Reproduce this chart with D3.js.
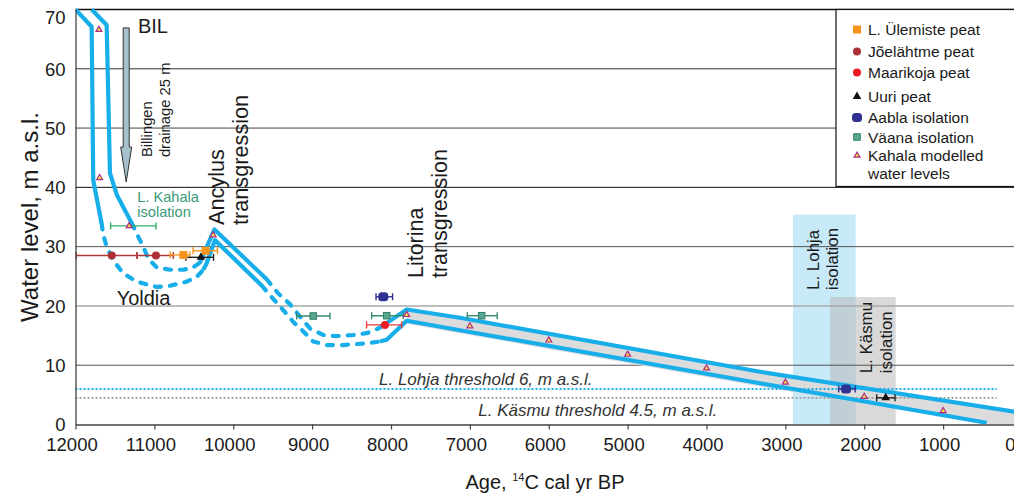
<!DOCTYPE html>
<html>
<head>
<meta charset="utf-8">
<script src="https://cdn.jsdelivr.net/npm/d3@7"></script>
<style>
  body { margin: 0; background: #fff; }
  svg text { font-family: "Liberation Sans", Arial, Helvetica, sans-serif; }
</style>
</head>
<body>
<div id="viz"></div>
<script>
const x_ticks = [12000, 11000, 10000, 9000, 8000, 7000, 6000, 5000, 4000, 3000, 2000, 1000, 0];
const y_ticks = [0, 10, 20, 30, 40, 50, 60, 70];

// shore level curves, [age cal yr BP, level m a.s.l.]; dashed = uncertain stretch
const upper_shore = [
  {dashed: false, points: [[11795, 70], [11605, 67.4], [11563, 42.4], [11475, 38.7], [11288, 34.0]]},
  {dashed: true, points: [[11288, 34.0], [11205, 31.7], [11141, 30.0], [11078, 28.0], [10971, 26.5], [10803, 26.1], [10634, 26.1], [10507, 26.5], [10422, 27.3]]},
  {dashed: false, points: [[10422, 27.3], [10380, 28.6], [10238, 32.9], [9576, 24.5]]},
  {dashed: true, points: [[9576, 24.5], [9429, 22.1], [9281, 20.3], [9154, 18.2], [9027, 16.2], [8859, 15.1], [8689, 14.9], [8478, 15.1], [8309, 15.4], [8161, 16.2], [8055, 17.1]]},
  {dashed: false, points: [[8055, 17.1], [7801, 19.4], [7126, 18.0], [3322, 8.9], [0, 1.95]]}
];
const lower_shore = [
  {dashed: false, points: [[12000, 70], [11795, 67.1], [11775, 41.2], [11669, 33.9]]},
  {dashed: true, points: [[11669, 33.9], [11648, 32.0], [11605, 30.0], [11521, 27.7], [11395, 25.5], [11225, 24.1], [10971, 23.2], [10803, 23.4], [10591, 24.1], [10464, 24.9], [10380, 26.1]]},
  {dashed: false, points: [[10380, 26.1], [10337, 27.2], [10232, 31.1], [9636, 23.4]]},
  {dashed: true, points: [[9636, 23.4], [9535, 21.8], [9366, 19.3], [9239, 17.3], [9112, 15.7], [8986, 14.0], [8816, 13.4], [8605, 13.4], [8309, 13.7], [8140, 14.0]]},
  {dashed: false, points: [[8140, 14.0], [8055, 14.3], [7801, 17.5], [7126, 15.9], [3322, 6.95], [448, 0.3]]}
];
// grey uncertainty band under the Litorina curve
const band_top = [[7801, 19.4], [7126, 18.0], [3322, 8.9], [0, 1.95]];
const band_bottom = [[0, 0], [380, 0], [3322, 6.4], [7126, 15.4], [7801, 17.0]];

const isolation_zones = [
  {name: 'lohja', from: 2903, to: 2108, top: 35.4},
  {name: 'kasmu', from: 2434, to: 1601, top: 21.5}
];
const thresholds = [
  {name: 'lohja', level: 6, from: 12000, to: 320, label: 'L. Lohja threshold 6, m a.s.l.', label_age: 8152, label_level: 6.66},
  {name: 'kasmu', level: 4.5, from: 12000, to: 320, label: 'L. Käsmu threshold 4.5, m a.s.l.', label_age: 6894, label_level: 1.48}
];

// dated sites: age, level, error range
const ulemiste_peat = [{age: 10632, v: 28.6, lo: 10800, hi: 10550}, {age: 10350, v: 29.3, lo: 10510, hi: 10200}];
const joelahtme_peat = [{age: 11540, v: 28.5, lo: 11990, hi: 11220}, {age: 10980, v: 28.5, lo: 11220, hi: 10760}];
const maarikoja_peat = [{age: 8077, v: 16.8, lo: 8310, hi: 7865}];
const uuri_peat = [{age: 10410, v: 28.2, lo: 10600, hi: 10250}, {age: 1728, v: 4.5, lo: 1842, hi: 1610}];
const aabla_isolation = [{age: 8098, v: 21.55, lo: 8190, hi: 7980}, {age: 2231, v: 6.0, lo: 2324, hi: 2114}];
const vaana_isolation = [{age: 8985, v: 18.3, lo: 9196, hi: 8774}, {age: 8055, v: 18.35, lo: 8245, hi: 7845}, {age: 6851, v: 18.35, lo: 7033, hi: 6653}];
const kahala_isolation = [{age: 11320, v: 33.5, lo: 11555, hi: 10979}];
const kahala_levels = [
  {age: 11703, v: 66.6}, {age: 11694, v: 41.6}, {age: 11320, v: 33.5}, {age: 10254, v: 31.95},
  {age: 7801, v: 18.5}, {age: 7000, v: 16.6}, {age: 6000, v: 14.2}, {age: 5000, v: 11.8},
  {age: 4000, v: 9.5}, {age: 3000, v: 7.1}, {age: 2000, v: 4.7}, {age: 1000, v: 2.3}
];

const billingen_arrow = {age: 11357, from: 66.9, to: 40.9};

const annotations = [
  {text: 'BIL', age: 11208, v: 66.0, size: 20},
  {text: 'Billingen', age: 11027, v: 45.1, size: 14.8, rotate: true},
  {text: 'drainage 25 m', age: 10796, v: 45.1, size: 14.8, rotate: true},
  {text: 'L. Kahala', age: 11217, v: 37.6, size: 14.6, color: '#3a9a78'},
  {text: 'isolation', age: 11217, v: 34.95, size: 14.6, color: '#3a9a78'},
  {text: 'Ancylus', age: 10118, v: 33.65, size: 21.7, rotate: true},
  {text: 'transgression', age: 9807, v: 33.65, size: 21.7, rotate: true},
  {text: 'Yoldia', age: 11478, v: 20.15, size: 20},
  {text: 'Litorina', age: 7588, v: 24.7, size: 21.5, rotate: true},
  {text: 'transgression', age: 7290, v: 24.7, size: 21.5, rotate: true},
  {text: 'L. Lohja', age: 2576, v: 22.7, size: 16.9, rotate: true},
  {text: 'isolation', age: 2328, v: 22.7, size: 16.9, rotate: true},
  {text: 'L. Käsmu', age: 1908, v: 8.64, size: 16.9, rotate: true},
  {text: 'isolation', age: 1643, v: 8.64, size: 16.9, rotate: true}
];

const legend_items = [
  {label: ['L. Ülemiste peat'], kind: 'ulemiste'},
  {label: ['Jõelähtme peat'], kind: 'joelahtme'},
  {label: ['Maarikoja peat'], kind: 'maarikoja'},
  {label: ['Uuri peat'], kind: 'uuri'},
  {label: ['Aabla isolation'], kind: 'aabla'},
  {label: ['Väana isolation'], kind: 'vaana'},
  {label: ['Kahala modelled', 'water levels'], kind: 'kahala'}
];

const LAYOUT = {
  width: 1014, height: 494,
  left: 75.5, right: 1022, top: 9.5, bottom: 424.5,
  legend: {x: 836, y: 9.5, w: 190, h: 177, marker_x: 857, text_x: 868, rows: [29.5, 51.5, 72.5, 96.5, 117.5, 137, 155.5], line_gap: 18}
};
const COLORS = {
  shore: '#18aeea', band: '#dcdcdc', text: '#1a1a1a',
  lohja_zone: '#c7e9f8', kasmu_zone: 'rgba(185,185,185,0.55)',
  lohja_line: '#18aeea', kasmu_line: '#9a9a9a'
};
const GRID_STYLE = {10: ['#555', 1], 20: ['#a9a9a9', 1.6], 30: ['#555', 1], 40: ['#111', 1], 50: ['#444', 1], 60: ['#333', 1], 70: ['#111', 1.3]};
const MARKERS = {
  ulemiste: {shape: 'rect', w: 8, h: 8, rx: 0, fill: '#f7941d', bar: '#f7941d'},
  joelahtme: {shape: 'circle', r: 4, fill: '#ad2f36', bar: '#b1343b'},
  maarikoja: {shape: 'circle', r: 4, fill: '#ec1c24', bar: '#ec3a40'},
  uuri: {shape: 'triangle', size: 32, fill: '#111', bar: '#222'},
  aabla: {shape: 'rect', w: 10, h: 9, rx: 3.5, fill: '#2e3192', bar: '#2e3192'},
  vaana: {shape: 'rect', w: 6.5, h: 6.5, rx: 0, fill: '#5aa590', stroke: '#2f7d68', bar: '#3a8a72'},
  kahala: {shape: 'triangle', size: 15, fill: '#f5e43c', stroke: '#b02a8c', bar: '#2fae66'}
};

let svg;
let x;
let y;

init_svg();
draw_zones();
draw_grid();
draw_band();
draw_thresholds();
draw_shores();
draw_arrow();
draw_sites();
draw_axes();
draw_annotations();
draw_legend();

function init_svg() {
  svg = d3.select('#viz').append('svg')
    .attr('width', LAYOUT.width)
    .attr('height', LAYOUT.height);

  x = d3.scaleLinear().domain([12000, 0]).range([LAYOUT.left, LAYOUT.right]);
  y = d3.scaleLinear().domain([0, 70]).range([LAYOUT.bottom, LAYOUT.top]);

  svg.append('clipPath').attr('id', 'plot_clip')
    .append('rect')
    .attr('x', LAYOUT.left).attr('y', LAYOUT.top - 3)
    .attr('width', LAYOUT.right - LAYOUT.left).attr('height', LAYOUT.bottom - LAYOUT.top + 3);
}

function draw_zones() {
  svg.append('g').selectAll('rect')
    .data(isolation_zones)
    .enter().append('rect')
    .attr('x', d => x(d.from))
    .attr('width', d => x(d.to) - x(d.from))
    .attr('y', d => y(d.top))
    .attr('height', d => y(0) - y(d.top))
    .attr('fill', d => COLORS[d.name + '_zone']);
}

function draw_grid() {
  svg.append('g').selectAll('line')
    .data(y_ticks.filter(t => t > 0))
    .enter().append('line')
    .attr('x1', LAYOUT.left).attr('x2', LAYOUT.width + 10)
    .attr('y1', d => y(d)).attr('y2', d => y(d))
    .attr('stroke', d => GRID_STYLE[d][0])
    .attr('stroke-width', d => GRID_STYLE[d][1]);
}

function draw_band() {
  const area_pts = band_top.concat(band_bottom);
  svg.append('path')
    .attr('clip-path', 'url(#plot_clip)')
    .attr('d', d3.line().x(d => x(d[0])).y(d => y(d[1]))(area_pts) + 'Z')
    .attr('fill', COLORS.band);
}

function draw_thresholds() {
  const g = svg.append('g');
  g.selectAll('line')
    .data(thresholds)
    .enter().append('line')
    .attr('x1', d => x(d.from)).attr('x2', d => x(d.to))
    .attr('y1', d => y(d.level)).attr('y2', d => y(d.level))
    .attr('stroke', d => COLORS[d.name + '_line'])
    .attr('stroke-width', d => d.name == 'lohja' ? 2 : 1.7)
    .attr('stroke-dasharray', '2,2');
  g.selectAll('text')
    .data(thresholds)
    .enter().append('text')
    .attr('x', d => x(d.label_age))
    .attr('y', d => y(d.label_level))
    .attr('font-size', 17)
    .attr('font-style', 'italic')
    .attr('fill', '#333')
    .text(d => d.label);
}

function draw_shores() {
  const line = d3.line().x(d => x(d[0])).y(d => y(d[1]));
  const g = svg.append('g').attr('clip-path', 'url(#plot_clip)');
  [upper_shore, lower_shore].forEach(shore => {
    g.selectAll(null)
      .data(shore)
      .enter().append('path')
      .attr('d', d => line(d.points))
      .attr('fill', 'none')
      .attr('stroke', COLORS.shore)
      .attr('stroke-width', 4.2)
      .attr('stroke-linejoin', 'round')
      .attr('stroke-linecap', d => d.dashed ? 'round' : 'butt')
      .attr('stroke-dasharray', d => d.dashed ? '6,9' : null);
  });
}

function draw_arrow() {
  const cx = x(billingen_arrow.age);
  const top = y(billingen_arrow.from);
  const tip = y(billingen_arrow.to);
  const head = tip - 35;
  const pts = [[cx - 3, top], [cx + 3, top], [cx + 3, head], [cx + 5.5, head], [cx, tip], [cx - 5.5, head], [cx - 3, head]];
  svg.append('path')
    .attr('d', d3.line()(pts) + 'Z')
    .attr('fill', '#a6c0cc')
    .attr('stroke', '#333')
    .attr('stroke-width', 1);
}

function draw_marker(g, kind, cx, cy) {
  const m = MARKERS[kind];
  if (m.shape == 'rect') {
    g.append('rect')
      .attr('x', cx - m.w / 2).attr('y', cy - m.h / 2)
      .attr('width', m.w).attr('height', m.h).attr('rx', m.rx)
      .attr('fill', m.fill)
      .attr('stroke', m.stroke || 'none').attr('stroke-width', 1);
  } else if (m.shape == 'circle') {
    g.append('circle')
      .attr('cx', cx).attr('cy', cy).attr('r', m.r)
      .attr('fill', m.fill);
  } else {
    g.append('path')
      .attr('transform', `translate(${cx},${cy})`)
      .attr('d', d3.symbol(d3.symbolTriangle, m.size)())
      .attr('fill', m.fill)
      .attr('stroke', m.stroke || 'none').attr('stroke-width', 1.2);
  }
}

function draw_error_bars(g, data, color) {
  data.forEach(d => {
    const yy = y(d.v);
    g.append('line')
      .attr('x1', x(d.lo)).attr('x2', x(d.hi))
      .attr('y1', yy).attr('y2', yy)
      .attr('stroke', color).attr('stroke-width', 1.4);
    [d.lo, d.hi].forEach(a => {
      g.append('line')
        .attr('x1', x(a)).attr('x2', x(a))
        .attr('y1', yy - 3.5).attr('y2', yy + 3.5)
        .attr('stroke', color).attr('stroke-width', 1.4);
    });
  });
}

function draw_sites() {
  const g = svg.append('g');
  const series = [
    [joelahtme_peat, 'joelahtme'],
    [ulemiste_peat, 'ulemiste'],
    [uuri_peat, 'uuri'],
    [maarikoja_peat, 'maarikoja'],
    [vaana_isolation, 'vaana'],
    [aabla_isolation, 'aabla'],
    [kahala_isolation, 'kahala']
  ];
  series.forEach(([data, kind]) => draw_error_bars(g, data, MARKERS[kind].bar));
  series.filter(s => s[1] != 'kahala').forEach(([data, kind]) => {
    data.forEach(d => draw_marker(g, kind, x(d.age), y(d.v)));
  });
  kahala_levels.forEach(d => draw_marker(g, 'kahala', x(d.age), y(d.v)));
}

function draw_axes() {
  const x_axis = svg.append('g')
    .attr('transform', `translate(0,${LAYOUT.bottom})`)
    .call(d3.axisBottom(x).tickValues(x_ticks).tickFormat(d3.format('d'))
      .tickSize(5).tickSizeOuter(0).tickPadding(8));
  x_axis.select('.domain').attr('stroke', '#444').attr('stroke-width', 1.3);
  x_axis.selectAll('.tick line').attr('stroke', '#444').attr('stroke-width', 1.2);
  // the 0 label sits at the right edge, half cut as in the source figure
  x_axis.selectAll('.tick text')
    .attr('font-size', 18.5)
    .attr('dx', d => d == 0 ? -12 : -4)
    .attr('fill', COLORS.text);

  const y_axis = svg.append('g')
    .attr('transform', `translate(${LAYOUT.left},0)`)
    .call(d3.axisLeft(y).tickValues(y_ticks).tickFormat(d3.format('d'))
      .tickSize(0).tickSizeOuter(0).tickPadding(10));
  y_axis.select('.domain').attr('stroke', '#444').attr('stroke-width', 1.3);
  y_axis.selectAll('.tick text')
    .attr('font-size', 18.5)
    .attr('fill', COLORS.text)
    .attr('dy', d => d == 70 ? '0.75em' : '0.34em');

  svg.append('text')
    .attr('transform', `translate(38,${(LAYOUT.top + LAYOUT.bottom) / 2}) rotate(-90)`)
    .attr('text-anchor', 'middle')
    .attr('font-size', 24)
    .attr('fill', COLORS.text)
    .text('Water level, m a.s.l.');

  const x_title = svg.append('text')
    .attr('x', 545).attr('y', 489)
    .attr('text-anchor', 'middle')
    .attr('font-size', 20)
    .attr('fill', COLORS.text);
  x_title.append('tspan').text('Age, ');
  x_title.append('tspan').attr('font-size', 11).attr('dy', -8).text('14');
  x_title.append('tspan').attr('dy', 8).text('C cal yr BP');
}

function draw_annotations() {
  svg.append('g').selectAll('text')
    .data(annotations)
    .enter().append('text')
    .attr('transform', d => `translate(${x(d.age)},${y(d.v)})` + (d.rotate ? ' rotate(-90)' : ''))
    .attr('font-size', d => d.size)
    .attr('fill', d => d.color || COLORS.text)
    .text(d => d.text);
}

function draw_legend() {
  const L = LAYOUT.legend;
  const g = svg.append('g');
  g.append('rect')
    .attr('x', L.x).attr('y', L.y)
    .attr('width', L.w).attr('height', L.h)
    .attr('fill', '#fff')
    .attr('stroke', '#111').attr('stroke-width', 1.2);
  legend_items.forEach((item, i) => {
    const cy = L.rows[i];
    draw_marker(g, item.kind, L.marker_x, cy);
    item.label.forEach((t, j) => {
      g.append('text')
        .attr('x', L.text_x).attr('y', cy + j * L.line_gap)
        .attr('dy', '0.36em')
        .attr('font-size', 15.5)
        .attr('fill', COLORS.text)
        .text(t);
    });
  });
}
</script>
</body>
</html>
